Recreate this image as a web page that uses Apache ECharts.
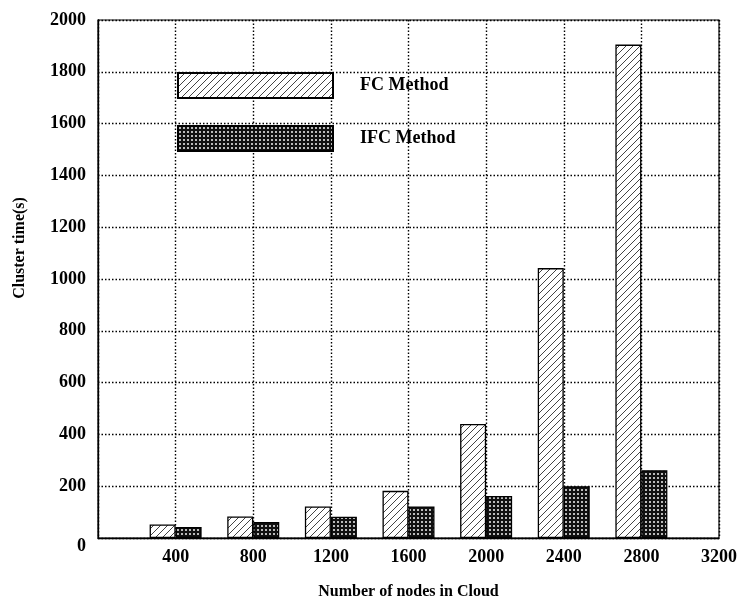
<!DOCTYPE html>
<html>
<head>
<meta charset="utf-8">
<script src="https://cdn.jsdelivr.net/npm/echarts@6/dist/echarts.min.js"></script>
<style>html,body{margin:0;padding:0;background:#fff}#c{width:737px;height:599px}</style>
</head>
<body>
<div id="c"></div>
<script>
const nodes = [400, 800, 1200, 1600, 2000, 2400, 2800];
const fcTime = [52, 83, 122, 182, 440, 1042, 1905];
const ifcTime = [42, 62, 82, 122, 162, 200, 262];
const seriesNames = ['FC Method', 'IFC Method'];
const xTitle = 'Number of nodes in Cloud';
const yTitle = 'Cluster time(s)';

const FONT = '"Liberation Serif", "Times New Roman", serif';

function hatchPattern() {
  const s = 7;
  const c = document.createElement('canvas');
  c.width = s; c.height = s;
  const g = c.getContext('2d');
  g.fillStyle = '#fff';
  g.fillRect(0, 0, s, s);
  g.strokeStyle = '#444';
  g.lineWidth = 1;
  g.beginPath();
  g.moveTo(-1, s + 1); g.lineTo(s + 1, -1);
  g.moveTo(-1, 1); g.lineTo(1, -1);
  g.moveTo(s - 1, s + 1); g.lineTo(s + 1, s - 1);
  g.stroke();
  return c;
}
function dotPattern() {
  const s = 4;
  const c = document.createElement('canvas');
  c.width = s; c.height = s;
  const g = c.getContext('2d');
  g.fillStyle = '#111';
  g.fillRect(0, 0, s, s);
  g.fillStyle = '#bbb';
  g.fillRect(1, 1, 2, 2);
  return c;
}

const chart = echarts.init(document.getElementById('c'), null, {renderer: 'canvas'});
const gridLine = {show: true, lineStyle: {color: '#000', width: 1.4, type: [1.5, 2]}};

chart.setOption({
  animation: false,
  backgroundColor: '#fff',
  grid: {left: 98, right: 18, top: 20, bottom: 61, outerBoundsMode: 'none', containLabel: false,
         show: true, borderColor: '#000', borderWidth: 1.2, backgroundColor: 'transparent'},
  legend: {
    left: 177, top: 72, padding: 0, orient: 'vertical', itemGap: 26,
    itemWidth: 155, itemHeight: 25, icon: 'rect',
    textStyle: {fontFamily: FONT, fontWeight: 'bold', fontSize: 18, color: '#000', padding: [0, 0, 0, 22]},
    data: seriesNames
  },
  xAxis: {
    type: 'value', min: 0, max: 3200, interval: 400,
    name: xTitle, nameLocation: 'middle', nameGap: 46,
    nameTextStyle: {fontFamily: FONT, fontWeight: 'bold', fontSize: 16, color: '#000'},
    axisLine: {show: true, lineStyle: {color: '#000', width: 1.3}},
    axisTick: {show: false},
    axisLabel: {
      margin: 10, fontFamily: FONT, fontWeight: 'bold', fontSize: 18, color: '#000',
      formatter: v => v === 0 ? '' : String(v)
    },
    splitLine: gridLine
  },
  yAxis: {
    type: 'value', min: 0, max: 2000, interval: 200,
    axisLine: {show: true, lineStyle: {color: '#000', width: 1.3}},
    axisTick: {show: false},
    axisLabel: {
      margin: 12, fontFamily: FONT, fontWeight: 'bold', fontSize: 18, color: '#000',
      formatter: v => v === 0 ? '{z|0}' : String(v),
      rich: {z: {fontFamily: FONT, fontWeight: 'bold', fontSize: 18, color: '#000', padding: [16, 0, 0, 0]}}
    },
    splitLine: gridLine
  },
  graphic: [{
    type: 'text', x: 20, y: 248, rotation: Math.PI / 2,
    style: {text: yTitle, font: 'bold 16px ' + FONT, fill: '#000', align: 'center', verticalAlign: 'middle'}
  }],
  series: [
    {
      name: seriesNames[0], type: 'bar', barWidth: 26, barGap: '0%',
      data: nodes.map((n, i) => [n, fcTime[i]]),
      itemStyle: {color: {image: hatchPattern(), repeat: 'repeat'}, borderColor: '#000', borderWidth: 1.3}
    },
    {
      name: seriesNames[1], type: 'bar', barWidth: 26, barGap: '0%',
      data: nodes.map((n, i) => [n, ifcTime[i]]),
      itemStyle: {color: {image: dotPattern(), repeat: 'repeat'}, borderColor: '#000', borderWidth: 1.3}
    }
  ]
});
</script>
</body>
</html>
